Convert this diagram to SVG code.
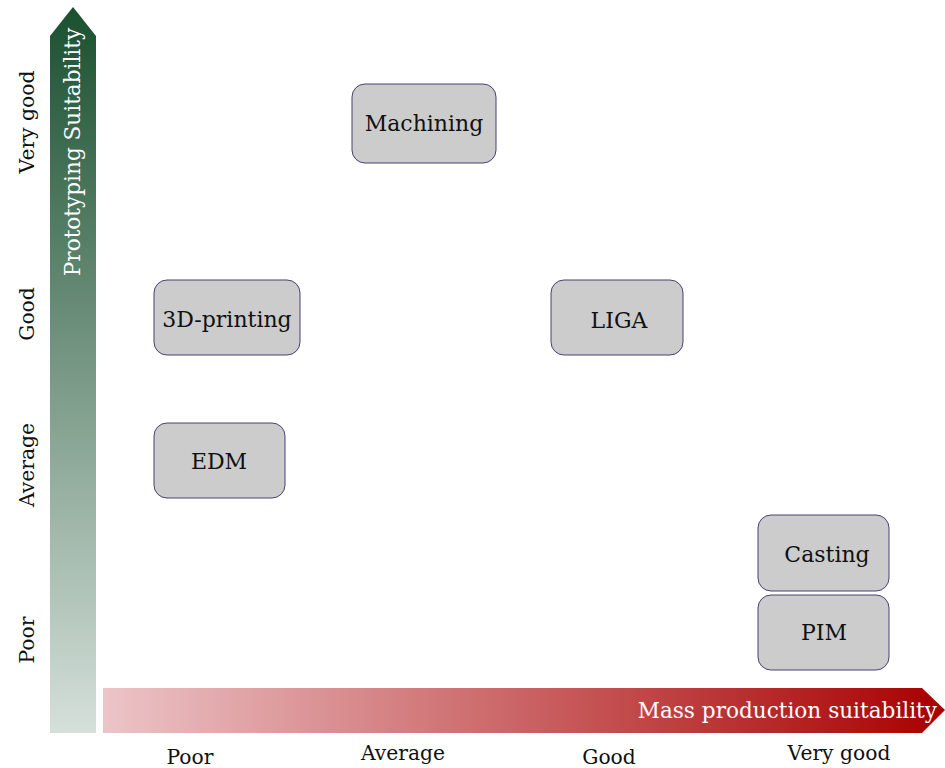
<svg xmlns="http://www.w3.org/2000/svg" width="945" height="768" viewBox="0 0 945 768">
  <defs>
    <linearGradient id="gradProto" x1="0" y1="1" x2="0" y2="0">
      <stop offset="0" stop-color="#d5e0da"/>
      <stop offset="1" stop-color="#1a5030"/>
    </linearGradient>
    <linearGradient id="gradMass" x1="0" y1="0" x2="1" y2="0">
      <stop offset="0" stop-color="#ecc5c8"/>
      <stop offset="1" stop-color="#a80000"/>
    </linearGradient>
  </defs>
  <style>
    .node rect { fill: #cccccc; stroke: #4b4173; stroke-width: 1; }
    .node text { font-family: "DejaVu Serif", serif; font-size: 22px; fill: #111; text-anchor: middle; dominant-baseline: central; }
    .tick { font-family: "DejaVu Serif", serif; font-size: 20.3px; fill: #111; text-anchor: middle; dominant-baseline: central; }
    .axis-title { font-family: "DejaVu Serif", serif; font-size: 21.6px; fill: #ffffff; dominant-baseline: central; }
  </style>

  <!-- axes -->
  <g id="axes">
    <polygon points="50,733 50,36 73,7 96,36 96,733" fill="url(#gradProto)"/>
    <polygon points="103,688 922,688 945,710 922,733 103,733" fill="url(#gradMass)"/>
    <text class="axis-title" text-anchor="middle" transform="translate(72,152) rotate(-90)">Prototyping Suitability</text>
    <text class="axis-title" text-anchor="end" x="937" y="710">Mass production suitability</text>
  </g>

  <!-- tick labels -->
  <g id="ticks-y">
    <text class="tick" transform="translate(27,122) rotate(-90)">Very good</text>
    <text class="tick" transform="translate(27,314) rotate(-90)">Good</text>
    <text class="tick" transform="translate(27,465) rotate(-90)">Average</text>
    <text class="tick" transform="translate(27,640) rotate(-90)">Poor</text>
  </g>
  <g id="ticks-x">
    <text class="tick" x="190" y="757">Poor</text>
    <text class="tick" x="403" y="753">Average</text>
    <text class="tick" x="609" y="757">Good</text>
    <text class="tick" x="839" y="753">Very good</text>
  </g>

  <!-- process nodes -->
  <g id="machining" class="node">
    <rect x="352" y="84" width="144" height="79" rx="13"/>
    <text x="424" y="123.5">Machining</text>
  </g>
  <g id="printing3d" class="node">
    <rect x="154" y="280" width="146" height="75" rx="13"/>
    <text x="227" y="319">3D-printing</text>
  </g>
  <g id="liga" class="node">
    <rect x="551" y="280" width="132" height="75" rx="13"/>
    <text x="619" y="320">LIGA</text>
  </g>
  <g id="edm" class="node">
    <rect x="154" y="423" width="131" height="75" rx="13"/>
    <text x="219" y="461">EDM</text>
  </g>
  <g id="casting" class="node">
    <rect x="758" y="515" width="131" height="76" rx="13"/>
    <text x="827" y="554">Casting</text>
  </g>
  <g id="pim" class="node">
    <rect x="758" y="595" width="131" height="75" rx="13"/>
    <text x="824" y="632">PIM</text>
  </g>

  <!-- no connectors in this chart -->
  <g id="connectors"/>
</svg>
